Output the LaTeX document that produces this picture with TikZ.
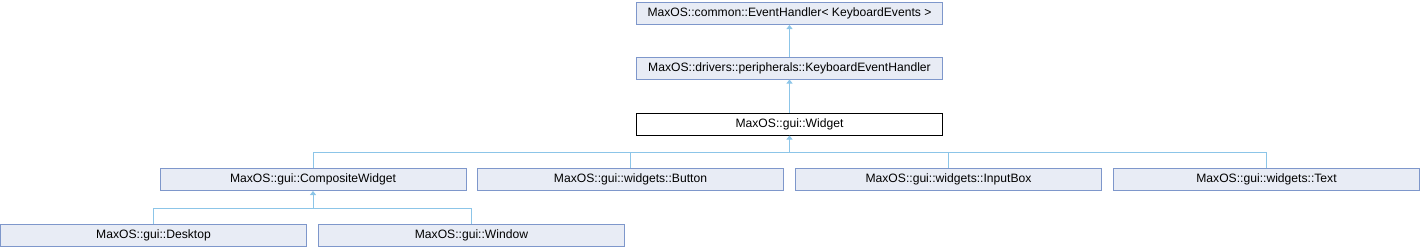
\documentclass[tikz,border=0pt]{standalone}
\usepackage{fontspec}
\setmainfont{Liberation Sans}
\usetikzlibrary{positioning, arrows.meta}

\definecolor{boxfill}{HTML}{E8ECF5}
\definecolor{boxdraw}{HTML}{7E97CB}
\definecolor{edgeblue}{HTML}{8CC5E8}

\begin{document}
\begin{tikzpicture}[x=0.75pt, y=-0.75pt,
  cls/.style={draw=boxdraw, fill=boxfill, line width=0.75pt, minimum width=229.5pt, minimum height=16.5pt, inner sep=0pt, font=\fontsize{9.1}{11}\selectfont},
  focus/.style={cls, draw=black, fill=white},
  inherit/.style={draw=edgeblue, line width=0.75pt},
  base/.style={inherit, -{Triangle[length=3pt, width=4.5pt]}}]
  \useasboundingbox (0,0) rectangle (1421,248);

  % Base classes stacked above the widget.
  \node[cls] (handler) at (789.5,13.5) {MaxOS::common::EventHandler< KeyboardEvents >};
  \node[cls] (keyhandler) at (789.5,68) {MaxOS::drivers::peripherals::KeyboardEventHandler};
  \node[focus] (widget) at (789.5,124) {MaxOS::gui::Widget};

  % Derived classes.
  \node[cls] (composite) at (313,179.5) {MaxOS::gui::CompositeWidget};
  \node[cls] (button) at (630.5,179.5) {MaxOS::gui::widgets::Button};
  \node[cls] (inputbox) at (948.5,179.5) {MaxOS::gui::widgets::InputBox};
  \node[cls] (text) at (1266.5,179.5) {MaxOS::gui::widgets::Text};
  \node[cls] (desktop) at (153.5,235.5) {MaxOS::gui::Desktop};
  \node[cls] (window) at (471.5,235.5) {MaxOS::gui::Window};

  \draw[base] (keyhandler) -- (handler);
  \draw[base] (widget) -- (keyhandler);

  % Buses joining the children to their parent.
  \coordinate (widgetbus) at ([yshift=-12.75pt]widget.south);
  \coordinate (compositebus) at ([yshift=-12.75pt]composite.south);

  \draw[base] (widgetbus) -- (widget);
  \foreach \child in {composite, button, inputbox, text}
    \draw[inherit] (\child.north) |- (widgetbus);

  \draw[base] (compositebus) -- (composite);
  \foreach \child in {desktop, window}
    \draw[inherit] (\child.north) |- (compositebus);
\end{tikzpicture}
\end{document}
